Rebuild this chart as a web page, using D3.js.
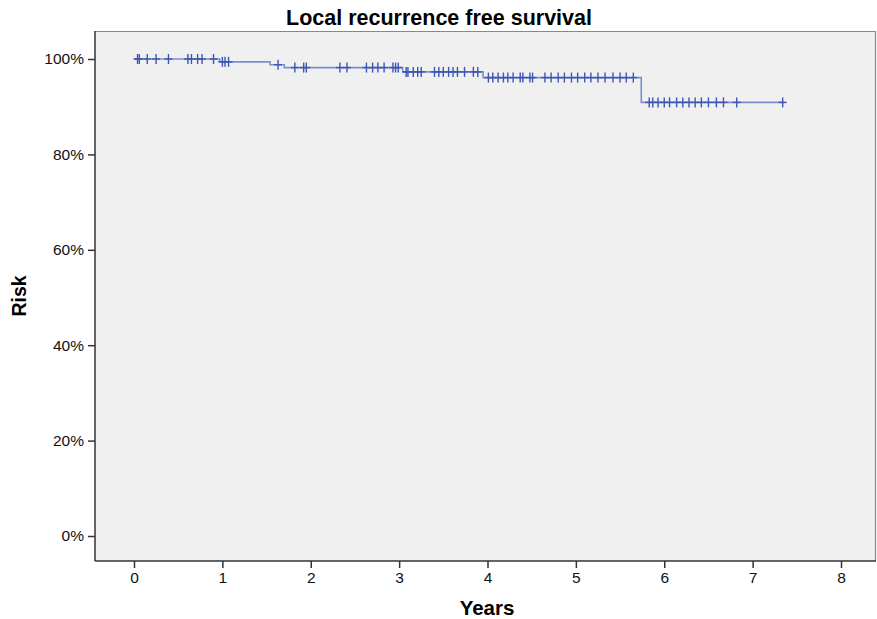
<!DOCTYPE html>
<html><head><meta charset="utf-8">
<script src="https://cdn.jsdelivr.net/npm/d3@7"></script>
<style>
body{margin:0;background:#fff;}
svg{display:block;font-family:Arial,"Liberation Sans",sans-serif;}
</style></head>
<body>
<svg id="chart" width="877" height="619"></svg>
<script>
const title = "Local recurrence free survival";
const xLabel = "Years";
const yLabel = "Risk";
const xTicks = [0,1,2,3,4,5,6,7,8];
const yTicks = [0,0.2,0.4,0.6,0.8,1.0];
// step function: time where level starts, survival level
const stepTimes =    [0,    0.97,  1.54,  1.70,  3.04,  3.95,  5.74];
const stepSurvival = [1.00, 0.994, 0.988, 0.982, 0.973, 0.961, 0.909];
const endTime = 7.36;
const censorTimes = [0.04,0.06,0.15,0.25,0.39,0.61,0.65,0.72,0.77,0.90,
  1.00,1.03,1.07,1.63,1.82,1.92,1.95,2.33,2.41,2.63,2.70,2.76,2.83,2.93,2.96,2.99,
  3.08,3.10,3.16,3.21,3.25,3.40,3.45,3.50,3.56,3.61,3.66,3.74,3.84,3.89,
  4.01,4.06,4.12,4.18,4.23,4.29,4.37,4.40,4.48,4.51,4.65,4.72,4.80,4.87,4.95,
  5.02,5.10,5.17,5.25,5.33,5.42,5.50,5.57,5.65,
  5.83,5.87,5.93,6.00,6.06,6.14,6.21,6.28,6.35,6.42,6.50,6.59,6.67,6.82,7.34];

const svg = d3.select("#chart");
const frame = {left:95, top:31, right:876, bottom:561};
const x = d3.scaleLinear().domain([0,8]).range([134,841]);
const y = d3.scaleLinear().domain([0,1]).range([536,59]);

svg.append("rect").attr("x",frame.left).attr("y",frame.top)
  .attr("width",frame.right-frame.left).attr("height",frame.bottom-frame.top)
  .attr("fill","#f0f0f0").attr("stroke","none");
svg.append("line").attr("x1",frame.left).attr("x2",frame.right).attr("y1",frame.top+0.5).attr("y2",frame.top+0.5).attr("stroke","#888").attr("stroke-width",1.2);
svg.append("line").attr("x1",frame.right-0.5).attr("x2",frame.right-0.5).attr("y1",frame.top).attr("y2",frame.bottom).attr("stroke","#888").attr("stroke-width",1.2);

const yAxis = d3.axisLeft(y).tickValues(yTicks).tickFormat(d3.format(".0%")).tickSize(7).tickSizeOuter(0);
const gy = svg.append("g").attr("transform",`translate(${frame.left},0)`).call(yAxis);
gy.select(".domain").remove();
gy.append("line").attr("x1",0).attr("x2",0).attr("y1",frame.top).attr("y2",frame.bottom).attr("stroke","#333").attr("stroke-width",1.5);
gy.selectAll(".tick line").attr("stroke","#333").attr("stroke-width",1.5);
gy.selectAll(".tick text").attr("font-size",15.5).attr("fill","#111").attr("x",-11);

const xAxis = d3.axisBottom(x).tickValues(xTicks).tickFormat(d3.format("d")).tickSize(7).tickSizeOuter(0);
const gx = svg.append("g").attr("transform",`translate(0,${frame.bottom})`).call(xAxis);
gx.select(".domain").remove();
gx.append("line").attr("x1",frame.left).attr("x2",frame.right).attr("y1",0).attr("y2",0).attr("stroke","#333").attr("stroke-width",1.5);
gx.selectAll(".tick line").attr("stroke","#333").attr("stroke-width",1.5);
gx.selectAll(".tick text").attr("font-size",15.5).attr("fill","#111").attr("y",11);

const pts = stepTimes.map((t,i)=>[t,stepSurvival[i]]);
pts.push([endTime, stepSurvival[stepSurvival.length-1]]);
const line = d3.line().x(d=>x(d[0])).y(d=>y(d[1])).curve(d3.curveStepAfter);
svg.append("path").datum(pts).attr("d",line).attr("fill","none")
  .attr("stroke","#7b8fd0").attr("stroke-width",1.6);

function survAt(t){
  let s = stepSurvival[0];
  for(let i=0;i<stepTimes.length;i++){ if(t>=stepTimes[i]) s=stepSurvival[i]; }
  return s;
}
const cg = svg.append("g").attr("stroke","#3d56b2").attr("stroke-width",1.4);
censorTimes.forEach(t=>{
  const cx = x(t), cy = y(survAt(t));
  cg.append("line").attr("x1",cx).attr("x2",cx).attr("y1",cy-5).attr("y2",cy+5);
  cg.append("line").attr("x1",cx-4).attr("x2",cx+4).attr("y1",cy).attr("y2",cy);
});

svg.append("text").attr("x",439).attr("y",25).attr("text-anchor","middle")
  .attr("font-size",21.5).attr("font-weight","bold").attr("fill","#000").text(title);
svg.append("text").attr("x",487).attr("y",615).attr("text-anchor","middle")
  .attr("font-size",20.5).attr("font-weight","bold").attr("fill","#000").text(xLabel);
svg.append("text").attr("transform","translate(26,296) rotate(-90)").attr("text-anchor","middle")
  .attr("font-size",19.5).attr("font-weight","bold").attr("fill","#000").text(yLabel);
</script>
</body></html>
